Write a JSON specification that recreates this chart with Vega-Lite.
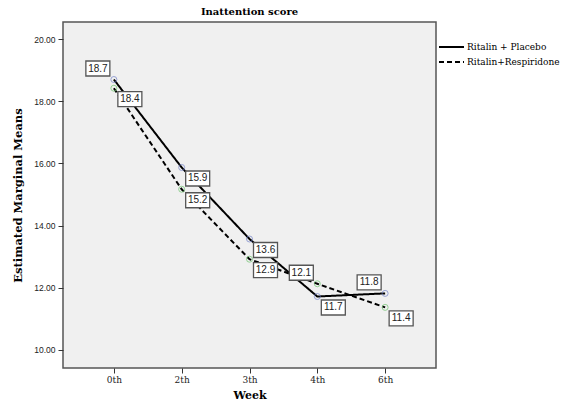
{
  "$schema": "https://vega.github.io/schema/vega-lite/v6.json",
  "autosize": {"type": "none"},
  "width": 373,
  "height": 346,
  "padding": {"left": 63, "top": 22, "right": 129, "bottom": 40},
  "background": "white",
  "title": {"text": "Inattention score", "font": "DejaVu Serif", "fontSize": 10, "fontWeight": "bold", "color": "black", "offset": 5},
  "config": {
    "view": {"fill": "#f0f0f0", "stroke": "#555555", "strokeWidth": 1.5},
    "axis": {"domain": false, "grid": false, "tickColor": "#333333", "tickSize": 5, "labelColor": "#222222", "titleColor": "black"},
    "legend": {"labelFont": "DejaVu Serif", "labelFontSize": 9, "labelColor": "black"}
  },
  "data": {"values": [
    {"week": "0th", "group": "Ritalin + Placebo", "value": 18.70},
    {"week": "2th", "group": "Ritalin + Placebo", "value": 15.87},
    {"week": "3th", "group": "Ritalin + Placebo", "value": 13.57},
    {"week": "4th", "group": "Ritalin + Placebo", "value": 11.72},
    {"week": "6th", "group": "Ritalin + Placebo", "value": 11.82},
    {"week": "0th", "group": "Ritalin+Respiridone", "value": 18.42},
    {"week": "2th", "group": "Ritalin+Respiridone", "value": 15.17},
    {"week": "3th", "group": "Ritalin+Respiridone", "value": 12.92},
    {"week": "4th", "group": "Ritalin+Respiridone", "value": 12.13},
    {"week": "6th", "group": "Ritalin+Respiridone", "value": 11.37}
  ]},
  "encoding": {
    "x": {"field": "week", "type": "ordinal", "sort": ["0th", "2th", "3th", "4th", "6th"],
      "scale": {"type": "point", "padding": 0.75},
      "axis": {"title": "Week", "labelAngle": 0, "labelFont": "DejaVu Serif", "labelFontSize": 9, "labelPadding": 2,
        "titleFont": "DejaVu Serif", "titleFontSize": 11, "titleFontWeight": "bold", "titlePadding": 5}},
    "y": {"field": "value", "type": "quantitative",
      "scale": {"domain": [9.42, 20.55], "nice": false, "zero": false},
      "axis": {"title": "Estimated Marginal Means", "values": [10, 12, 14, 16, 18, 20], "format": ".2f",
        "labelFont": "Liberation Sans", "labelFontSize": 8.5, "labelPadding": 3,
        "titleFont": "DejaVu Serif", "titleFontSize": 11.5, "titleFontWeight": "bold", "titlePadding": 10}}
  },
  "layer": [
    {
      "mark": {"type": "line", "color": "black", "strokeWidth": 2},
      "encoding": {
        "strokeDash": {"field": "group", "type": "nominal",
          "scale": {"domain": ["Ritalin + Placebo", "Ritalin+Respiridone"], "range": [[1, 0], [5, 3]]},
          "legend": {"title": null, "orient": "none", "legendX": 375, "legendY": 19,
            "symbolType": "M-1,0H4", "symbolSize": 100, "symbolStrokeWidth": 2, "symbolStrokeColor": "black", "symbolFillColor": "transparent",
            "labelFont": "DejaVu Serif", "labelFontSize": 9, "labelColor": "black", "labelOffset": 17, "rowPadding": 4}}
      }
    },
    {
      "mark": {"type": "point", "filled": false, "size": 36, "strokeWidth": 1},
      "encoding": {
        "stroke": {"condition": {"test": "datum.group == 'Ritalin + Placebo'", "value": "#7080c8"}, "value": "#6cc46c"}
      }
    },
    {
      "transform": [{"filter": "(datum.group == 'Ritalin + Placebo' && (datum.week == '0th' || datum.week == '6th')) || (datum.group == 'Ritalin+Respiridone' && datum.week == '4th')"}],
      "layer": [
        {"mark": {"type": "point", "shape": "M-28,-18.5H-4V-3.5H-28Z", "size": 4, "filled": true, "fill": "white", "stroke": "#555555", "strokeWidth": 1.3, "opacity": 1}},
        {"mark": {"type": "text", "dx": -16, "dy": -11, "align": "center", "baseline": "middle", "font": "Liberation Sans", "fontSize": 10, "color": "#222222"},
          "encoding": {"text": {"field": "value", "type": "quantitative", "format": ".1f"}}}
      ]
    },
    {
      "transform": [{"filter": "!((datum.group == 'Ritalin + Placebo' && (datum.week == '0th' || datum.week == '6th')) || (datum.group == 'Ritalin+Respiridone' && datum.week == '4th'))"}],
      "layer": [
        {"mark": {"type": "point", "shape": "M4,3.5H28V18.5H4Z", "size": 4, "filled": true, "fill": "white", "stroke": "#555555", "strokeWidth": 1.3, "opacity": 1}},
        {"mark": {"type": "text", "dx": 16, "dy": 11, "align": "center", "baseline": "middle", "font": "Liberation Sans", "fontSize": 10, "color": "#222222"},
          "encoding": {"text": {"field": "value", "type": "quantitative", "format": ".1f"}}}
      ]
    }
  ]
}
